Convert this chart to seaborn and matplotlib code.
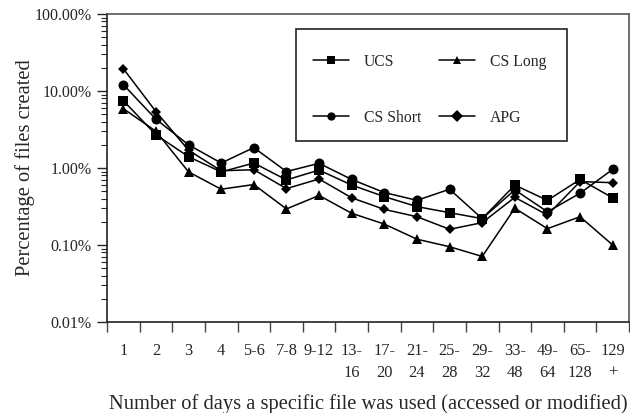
import numpy as np
import pandas as pd
import matplotlib
matplotlib.use("Agg")
import matplotlib.pyplot as plt
from matplotlib.patches import Rectangle
from matplotlib.ticker import FixedLocator, LogLocator, NullFormatter, FuncFormatter
import seaborn as sns

# Day-count buckets (x axis)
categories = ["1", "2", "3", "4", "5-6", "7-8", "9-12", "13-\n16", "17-\n20",
              "21-\n24", "25-\n28", "29-\n32", "33-\n48", "49-\n64", "65-\n128", "129\n+"]

# Percentage of files created, per trace
ucs = [7.5, 2.7, 1.40, 0.89, 1.16, 0.70, 0.94, 0.60, 0.425, 0.315, 0.263, 0.22, 0.60, 0.38, 0.71, 0.41]
cs_long = [5.9, 3.0, 0.89, 0.53, 0.61, 0.294, 0.44, 0.258, 0.187, 0.119, 0.095, 0.071, 0.30, 0.163, 0.233, 0.100]
cs_short = [12.1, 4.3, 2.0, 1.16, 1.84, 0.90, 1.15, 0.71, 0.48, 0.38, 0.53, 0.22, 0.52, 0.27, 0.47, 0.96]
apg = [19.5, 5.4, 1.70, 0.92, 0.95, 0.54, 0.72, 0.41, 0.29, 0.233, 0.16, 0.195, 0.416, 0.245, 0.665, 0.645]

series_names = ["UCS", "CS Long", "CS Short", "APG"]
series_values = [ucs, cs_long, cs_short, apg]

rows = []
for name, vals in zip(series_names, series_values):
    for i, v in enumerate(vals):
        rows.append({"pos": i, "pct": v, "trace": name})
df = pd.DataFrame(rows)

sns.set_style("ticks")
plt.rcParams["font.family"] = ["Liberation Serif", "DejaVu Serif"]

fig = plt.figure(figsize=(6.3, 4.13), dpi=100)
ax = fig.add_axes([107 / 630, 1 - 322 / 413, 522 / 630, 308 / 413])

markers = {"UCS": "s", "CS Long": "^", "CS Short": "o", "APG": "D"}
sns.lineplot(data=df, x="pos", y="pct", style="trace", style_order=series_names,
             markers=markers, dashes=False, color="black", linewidth=1.1,
             markersize=7, markeredgewidth=0, ax=ax, legend=True)

# per-marker size tweaks
sizes = {"UCS": 6.8, "CS Long": 7.8, "CS Short": 7.2, "APG": 5.4}
for line, name in zip(ax.get_lines()[:4], series_names):
    line.set_markersize(sizes[name])

ax.set_yscale("log")
ax.set_ylim(0.01, 100)
ax.set_xlim(-0.5, len(categories) - 0.5)

ax.yaxis.set_major_locator(LogLocator(base=10, numticks=10))
ax.yaxis.set_minor_locator(LogLocator(base=10, subs=np.arange(2, 10), numticks=10))
ax.yaxis.set_minor_formatter(NullFormatter())
ax.yaxis.set_major_formatter(FuncFormatter(lambda v, p: f"{v:.2f}%"))

ax.xaxis.set_major_locator(FixedLocator(np.arange(len(categories))))
ax.set_xticklabels(categories, linespacing=1.5)
ax.xaxis.set_minor_locator(FixedLocator(np.arange(len(categories) + 1) - 0.5))

ax.tick_params(axis="x", which="major", length=0, pad=15, labelsize=11.8)
ax.tick_params(axis="x", which="minor", length=7, width=1.0, color="#444444", direction="out")
ax.tick_params(axis="y", which="major", length=7, width=1.0, pad=4, labelsize=11.5, direction="out")
ax.tick_params(axis="y", which="minor", length=4.3, width=0.8, direction="out")
for lbl in ax.get_xticklabels():
    lbl.set_verticalalignment("top")

for side in ["left", "bottom", "top", "right"]:
    ax.spines[side].set_linewidth(1.2)
    ax.spines[side].set_color("#222222")
ax.spines["top"].set_color("#555555")
ax.spines["right"].set_color("#555555")

ax.set_xlabel("Number of days a specific file was used (accessed or modified)",
              fontsize=14.8, va="top")
ax.xaxis.set_label_coords(0.5, (322 - 394) / 308)
ax.set_ylabel("Percentage of files created", fontsize=14.8, labelpad=0)

# Legend: two columns, framed by a separate box
handles, labels = ax.get_legend_handles_labels()
hmap = dict(zip(labels, handles))
order = ["UCS", "CS Short", "CS Long", "APG"]
ax.legend([hmap[k] for k in order], order, ncol=2, frameon=False,
          loc="upper left", bbox_to_anchor=(305 / 630, 1 - 46 / 413),
          bbox_transform=fig.transFigure, fontsize=11.3, markerscale=0.85,
          handlelength=2.3, handletextpad=0.95, columnspacing=1.12,
          labelspacing=2.55, borderpad=0)
ax.add_patch(Rectangle((296 / 630, 1 - 141 / 413), 271 / 630, 112 / 413,
                       transform=fig.transFigure, fill=False,
                       edgecolor="#222222", linewidth=1.2, zorder=5))

fig.savefig("out.png", dpi=100)
